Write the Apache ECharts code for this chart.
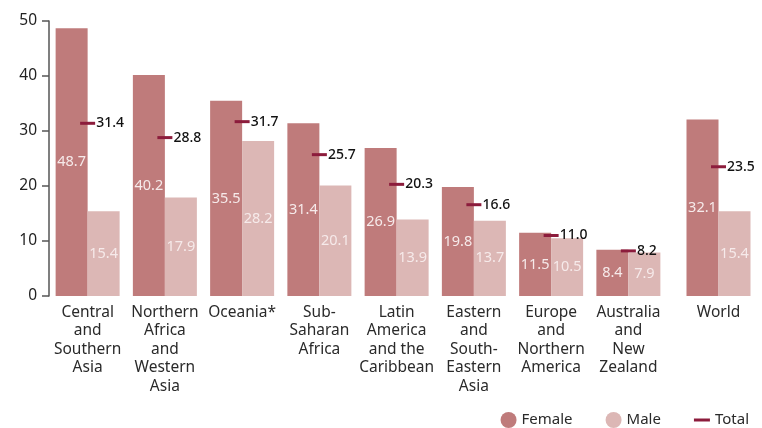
<!DOCTYPE html>
<html>
<head>
<meta charset="utf-8">
<script src="https://cdn.jsdelivr.net/npm/echarts@6/dist/echarts.min.js"></script>
<style>
  html, body { margin: 0; padding: 0; background: #fff; }
  #chart { width: 762px; height: 428px; }
</style>
</head>
<body>
<div id="chart"></div>
<script>
// regions (last one is drawn apart, in its own grid)
const regions = ['Central\nand\nSouthern\nAsia', 'Northern\nAfrica\nand\nWestern\nAsia', 'Oceania*',
  'Sub-\nSaharan\nAfrica', 'Latin\nAmerica\nand the\nCaribbean', 'Eastern\nand\nSouth-\nEastern\nAsia',
  'Europe\nand\nNorthern\nAmerica', 'Australia\nand\nNew\nZealand'];
const worldCat = ['World'];
const female = [48.7, 40.2, 35.5, 31.4, 26.9, 19.8, 11.5, 8.4];
const male = [15.4, 17.9, 28.2, 20.1, 13.9, 13.7, 10.5, 7.9];
const total = [31.4, 28.8, 31.7, 25.7, 20.3, 16.6, 11.0, 8.2];
const worldFemale = [32.1];
const worldMale = [15.4];
const worldTotal = [23.5];

const colors = ['#bf7b7b', '#dcb7b5', '#8c1c3c'];
const font = 'Noto Sans';

let myChart = echarts.init(document.getElementById('chart'));

function barLabel() {
  return {
    show: true,
    position: 'inside',
    color: '#f6eaea',
    fontSize: 14.5,
    fontFamily: font,
    formatter: p => p.value.toFixed(1)
  };
}
function totalSeries(data, idx) {
  return {
    name: 'Total',
    type: 'scatter',
    xAxisIndex: idx,
    yAxisIndex: idx,
    symbol: 'rect',
    symbolSize: [15, 3],
    itemStyle: { color: colors[2], opacity: 1 },
    z: 5,
    label: {
      show: true,
      position: 'right',
      distance: 1,
      color: '#111',
      fontSize: 14,
      fontWeight: 500,
      fontFamily: font,
      formatter: p => p.value.toFixed(1)
    },
    data: data
  };
}
const xCommon = {
  type: 'category',
  axisLine: { show: false },
  axisTick: { show: false },
  axisLabel: {
    interval: 0,
    color: '#2a2a2a',
    fontSize: 15.5,
    fontFamily: font,
    lineHeight: 18.5,
    margin: 7,
    verticalAlign: 'top'
  }
};
const yCommon = {
  type: 'value',
  min: 0,
  max: 50,
  interval: 10,
  splitLine: { show: false }
};

let option = {
  backgroundColor: '#fff',
  animation: false,
  color: colors,
  legend: {
    top: 407,
    right: 8,
    itemGap: 33,
    itemWidth: 16,
    itemHeight: 16,
    textStyle: { color: '#2a2a2a', fontSize: 15, fontFamily: font },
    data: [
      { name: 'Female', icon: 'circle' },
      { name: 'Male', icon: 'circle' },
      { name: 'Total', icon: 'path://M0,7 L16,7 L16,10 L0,10 Z' }
    ]
  },
  grid: [
    { left: 49, right: 95, top: 21, bottom: 132 },
    { left: 680, right: 5, top: 21, bottom: 132 }
  ],
  xAxis: [
    Object.assign({ gridIndex: 0, data: regions }, xCommon),
    Object.assign({ gridIndex: 1, data: worldCat }, xCommon)
  ],
  yAxis: [
    Object.assign({
      gridIndex: 0,
      axisLine: { show: true, lineStyle: { color: '#555', width: 1.5 } },
      axisTick: { show: true, length: 7, lineStyle: { color: '#555', width: 1.5 } },
      axisLabel: { color: '#222', fontSize: 15.5, fontFamily: font, margin: 12 }
    }, yCommon),
    Object.assign({
      gridIndex: 1,
      axisLine: { show: false },
      axisTick: { show: false },
      axisLabel: { show: false }
    }, yCommon)
  ],
  series: [
    { name: 'Female', type: 'bar', barWidth: 32, barGap: 0, label: barLabel(), data: female },
    { name: 'Male', type: 'bar', barWidth: 32, barGap: 0, label: barLabel(), data: male },
    totalSeries(total, 0),
    { name: 'Female', type: 'bar', xAxisIndex: 1, yAxisIndex: 1, barWidth: 32, barGap: 0, label: barLabel(), data: worldFemale },
    { name: 'Male', type: 'bar', xAxisIndex: 1, yAxisIndex: 1, barWidth: 32, barGap: 0, label: barLabel(), data: worldMale },
    totalSeries(worldTotal, 1)
  ]
};
myChart.setOption(option);
</script>
</body>
</html>
